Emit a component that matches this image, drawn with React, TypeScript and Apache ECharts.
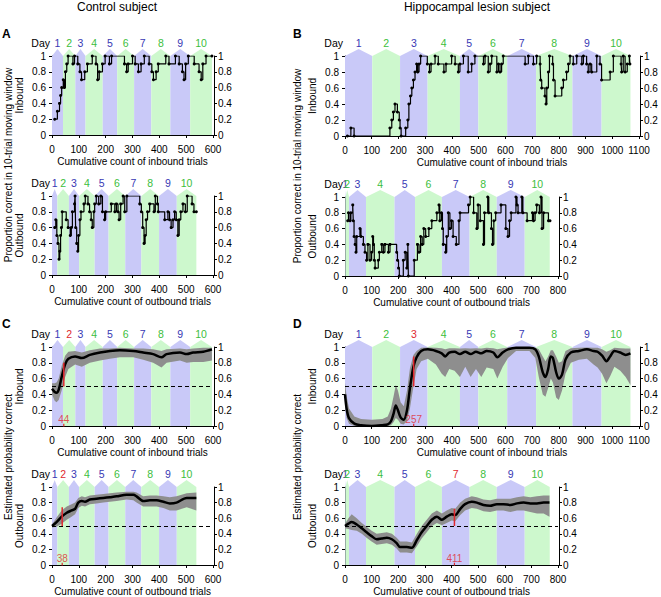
import React, { useEffect, useRef } from "react";
import * as echarts from "echarts";

const FONT = "'Liberation Sans', Arial, Helvetica, sans-serif";
const BLUE_BAND = "#c9c9f8";
const GREEN_BAND = "#cdf8cd";
const BLUE_TXT = "#3838b4";
const GREEN_TXT = "#3cbe3c";
const RED = "#e0282e";
const GRAY = "#8e8e8e";

// Day boundaries (cumulative trial counts)
const ctlInDays = [0, 41, 87, 125, 189, 243, 306, 370, 441, 515, 596];
const ctlOutDays = [0, 20, 63, 101, 159, 211, 273, 333, 399, 465, 538];
const lesInDays = [0, 102, 206, 309, 430, 499, 607, 715, 851, 960, 1068];
const lesOutDays = [0, 2, 15, 79, 186, 263, 364, 468, 570, 675, 769];

// Proportion correct in 10-trial moving window: [trial where value starts, value]
const ctlInSteps = [
  [10, 0.2], [20, 0.3], [28, 0.4], [32, 0.5], [36, 0.6], [42, 0.7], [46, 0.6], [50, 0.8], [55, 0.9], [60, 1.0],
  [78, 0.9], [84, 1.0], [96, 0.9], [104, 0.8], [110, 0.7], [122, 0.8], [132, 0.9], [150, 1.0], [164, 0.9], [170, 0.7],
  [176, 0.8], [188, 0.9], [198, 1.0], [214, 0.9], [222, 1.0], [270, 0.9], [278, 0.8], [284, 0.9], [300, 1.0], [310, 0.9],
  [322, 0.8], [332, 0.9], [344, 1.0], [362, 0.9], [372, 0.8], [378, 0.7], [388, 0.8], [396, 0.9], [424, 1.0], [436, 0.9],
  [460, 1.0], [474, 0.9], [486, 0.8], [492, 0.7], [498, 0.9], [508, 1.0], [530, 0.9], [548, 0.8], [556, 0.7], [562, 0.9],
  [574, 1.0], [596, 1.0],
];
const ctlOutSteps = [
  [10, 0.6], [14, 0.7], [18, 0.5], [22, 0.4], [26, 0.2], [29, 0.3], [32, 0.5], [35, 0.6], [38, 0.8], [53, 0.7],
  [60, 0.6], [68, 0.5], [72, 0.6], [76, 0.8], [84, 0.9], [86, 1.0], [88, 0.6], [92, 0.4], [96, 0.3], [99, 0.5],
  [104, 0.7], [108, 0.8], [119, 0.9], [124, 1.0], [134, 0.9], [140, 0.8], [146, 0.7], [150, 0.6], [156, 0.8], [159, 0.9],
  [165, 1.0], [174, 0.9], [182, 1.0], [188, 0.8], [196, 0.7], [200, 0.8], [221, 0.9], [234, 0.8], [240, 0.9], [246, 0.8],
  [250, 0.7], [256, 0.9], [265, 1.0], [271, 0.8], [279, 1.0], [327, 0.9], [333, 0.8], [338, 0.6], [343, 0.4], [347, 0.5],
  [351, 0.7], [356, 0.8], [364, 0.9], [380, 0.8], [385, 1.0], [393, 0.9], [396, 0.8], [420, 0.7], [432, 0.8], [438, 0.7],
  [444, 0.6], [451, 0.7], [457, 0.8], [463, 0.7], [469, 0.5], [474, 0.7], [480, 0.8], [488, 0.9], [497, 0.8], [504, 1.0],
  [522, 0.9], [529, 0.8], [538, 0.8],
];
const lesInSteps = [
  [9, 0], [22, 0.1], [34, 0], [168, 0.1], [175, 0.2], [181, 0.3], [187, 0.4], [196, 0.3], [203, 0.2], [206, 0.1],
  [210, 0], [227, 0.1], [235, 0.2], [239, 0.4], [245, 0.5], [250, 0.6], [256, 0.7], [262, 0.8], [268, 0.9], [272, 0.8],
  [277, 0.9], [283, 1.0], [308, 0.9], [316, 0.8], [322, 0.9], [337, 1.0], [349, 0.9], [370, 0.8], [378, 0.9], [399, 1.0],
  [412, 0.9], [424, 0.8], [430, 0.9], [443, 1.0], [461, 0.8], [474, 0.9], [486, 1.0], [518, 0.9], [524, 1.0], [536, 0.8],
  [543, 0.9], [549, 1.0], [568, 0.8], [574, 0.9], [580, 0.8], [586, 0.9], [592, 1.0], [674, 0.9], [686, 1.0], [705, 0.9],
  [717, 1.0], [730, 0.9], [732, 0.7], [736, 0.6], [748, 0.5], [752, 0.4], [755, 0.6], [761, 0.8], [765, 1.0], [777, 0.9],
  [780, 0.7], [786, 0.5], [811, 0.6], [817, 0.7], [829, 0.8], [836, 0.9], [842, 1.0], [854, 0.9], [867, 1.0], [886, 0.9],
  [892, 1.0], [904, 0.9], [910, 0.8], [917, 0.9], [923, 0.8], [942, 1.0], [954, 0.9], [960, 0.7], [992, 0.8], [1004, 1.0],
  [1033, 0.9], [1035, 0.8], [1041, 1.0], [1048, 0.8], [1056, 0.9], [1064, 1.0], [1066, 0.9],
];
const lesOutSteps = [
  [10, 0.7], [13, 0.8], [19, 0.7], [22, 0.8], [29, 0.9], [31, 0.7], [34, 0.5], [38, 0.4], [41, 0.3], [44, 0.5],
  [56, 0.6], [60, 0.5], [69, 0.4], [75, 0.3], [81, 0.2], [86, 0.4], [94, 0.2], [100, 0.3], [104, 0.5], [107, 0.4],
  [110, 0.2], [113, 0.1], [125, 0.2], [129, 0.3], [138, 0.4], [144, 0.3], [150, 0.4], [163, 0.3], [169, 0.4], [194, 0.3],
  [197, 0.2], [201, 0.1], [204, 0], [219, 0.2], [226, 0.3], [232, 0.1], [236, 0.4], [238, 0], [260, 0.2], [272, 0.4],
  [278, 0.3], [284, 0.5], [290, 0.4], [296, 0.6], [303, 0.5], [315, 0.6], [326, 0.7], [345, 0.8], [353, 0.9], [356, 0.7],
  [362, 0.8], [366, 0.6], [369, 0.4], [378, 0.3], [382, 0.5], [388, 0.8], [394, 0.6], [400, 0.7], [406, 0.5], [418, 0.4],
  [428, 0.7], [432, 0.8], [464, 0.9], [470, 1.0], [483, 0.8], [495, 0.6], [500, 0.9], [508, 0.7], [520, 0.4], [524, 0.8],
  [536, 1.0], [540, 0.8], [550, 0.6], [554, 0.4], [559, 0.7], [566, 0.8], [586, 0.9], [604, 0.6], [612, 0.5], [618, 0.7],
  [624, 0.8], [642, 1.0], [646, 0.9], [650, 0.8], [664, 1.0], [668, 0.8], [684, 0.7], [704, 0.8], [708, 0.7], [714, 0.8],
  [720, 0.9], [730, 0.8], [736, 1.0], [740, 0.6], [746, 0.8], [764, 0.7], [770, 0.7],
];

// Estimated probability correct: [trial, mean, lower bound, upper bound]
const ctlInEst = [
  [0, 0.47, 0.40, 0.54], [10, 0.43, 0.32, 0.54], [17, 0.42, 0.30, 0.55], [25, 0.46, 0.33, 0.60], [36, 0.62, 0.45, 0.76],
  [49, 0.78, 0.62, 0.89], [61, 0.85, 0.72, 0.94], [86, 0.88, 0.78, 0.95], [111, 0.86, 0.75, 0.93], [141, 0.90, 0.80, 0.96],
  [179, 0.93, 0.83, 0.98], [216, 0.95, 0.85, 0.98], [253, 0.96, 0.87, 0.99], [303, 0.95, 0.87, 0.98], [340, 0.93, 0.84, 0.98],
  [377, 0.91, 0.80, 0.97], [408, 0.87, 0.74, 0.95], [427, 0.91, 0.80, 0.97], [477, 0.93, 0.83, 0.98], [502, 0.91, 0.80, 0.97],
  [526, 0.93, 0.81, 0.98], [564, 0.94, 0.81, 0.99], [596, 0.97, 0.83, 0.99],
];
const ctlOutEst = [
  [0, 0.50, 0.48, 0.52], [17, 0.55, 0.49, 0.61], [36, 0.62, 0.53, 0.70], [55, 0.67, 0.58, 0.75], [73, 0.70, 0.62, 0.78],
  [86, 0.72, 0.65, 0.80], [98, 0.80, 0.73, 0.86], [111, 0.82, 0.76, 0.88], [123, 0.81, 0.75, 0.87], [141, 0.84, 0.78, 0.89],
  [166, 0.85, 0.79, 0.90], [191, 0.86, 0.80, 0.91], [216, 0.87, 0.81, 0.92], [241, 0.88, 0.82, 0.93], [278, 0.90, 0.84, 0.94],
  [303, 0.90, 0.83, 0.94], [315, 0.88, 0.80, 0.93], [340, 0.82, 0.75, 0.88], [365, 0.83, 0.75, 0.89], [390, 0.83, 0.75, 0.89],
  [415, 0.81, 0.73, 0.88], [439, 0.79, 0.70, 0.87], [464, 0.80, 0.70, 0.88], [502, 0.86, 0.74, 0.92], [538, 0.86, 0.70, 0.93],
];
const lesInEst = [
  [0, 0.40, 0.25, 0.55], [6, 0.22, 0.10, 0.38], [15, 0.10, 0.03, 0.22], [35, 0.03, 0.0, 0.12], [60, 0.01, 0.0, 0.09],
  [100, 0.0, 0.0, 0.08], [140, 0.01, 0.0, 0.09], [160, 0.02, 0.0, 0.12], [172, 0.06, 0.01, 0.22], [182, 0.16, 0.05, 0.38],
  [190, 0.26, 0.10, 0.52], [198, 0.20, 0.08, 0.45], [208, 0.11, 0.03, 0.30], [220, 0.08, 0.02, 0.25], [232, 0.20, 0.07, 0.45],
  [243, 0.48, 0.22, 0.73], [256, 0.75, 0.50, 0.90], [268, 0.87, 0.72, 0.95], [285, 0.95, 0.82, 0.99], [310, 0.97, 0.85, 0.995],
  [340, 0.95, 0.78, 0.99], [362, 0.92, 0.66, 0.985], [375, 0.88, 0.62, 0.97], [390, 0.93, 0.72, 0.985], [410, 0.94, 0.70, 0.985],
  [430, 0.91, 0.62, 0.98], [450, 0.94, 0.75, 0.985], [470, 0.91, 0.62, 0.98], [490, 0.94, 0.72, 0.985], [510, 0.92, 0.62, 0.98],
  [530, 0.95, 0.74, 0.99], [555, 0.93, 0.72, 0.985], [570, 0.87, 0.60, 0.97], [590, 0.93, 0.75, 0.985], [610, 0.97, 0.86, 0.995],
  [640, 0.99, 0.95, 1.0], [690, 0.99, 0.95, 1.0], [712, 0.97, 0.86, 0.995], [725, 0.88, 0.62, 0.97], [740, 0.68, 0.40, 0.88],
  [750, 0.62, 0.37, 0.82], [760, 0.72, 0.48, 0.88], [770, 0.88, 0.60, 0.96], [778, 0.86, 0.55, 0.96], [790, 0.68, 0.36, 0.88],
  [800, 0.60, 0.33, 0.80], [812, 0.65, 0.45, 0.82], [825, 0.84, 0.66, 0.95], [845, 0.93, 0.80, 0.985], [875, 0.95, 0.84, 0.99],
  [905, 0.97, 0.85, 0.995], [930, 0.95, 0.78, 0.99], [945, 0.94, 0.74, 0.99], [962, 0.89, 0.66, 0.97], [978, 0.82, 0.54, 0.94],
  [992, 0.88, 0.63, 0.96], [1008, 0.95, 0.75, 0.99], [1030, 0.93, 0.70, 0.985], [1050, 0.90, 0.62, 0.98], [1068, 0.92, 0.52, 0.98],
];
const lesOutEst = [
  [0, 0.50, 0.47, 0.53], [13, 0.53, 0.46, 0.60], [25, 0.55, 0.45, 0.65], [44, 0.52, 0.44, 0.60], [63, 0.47, 0.40, 0.54],
  [81, 0.42, 0.35, 0.49], [100, 0.37, 0.30, 0.44], [119, 0.33, 0.26, 0.40], [138, 0.34, 0.27, 0.41], [157, 0.35, 0.28, 0.42],
  [176, 0.33, 0.26, 0.40], [194, 0.28, 0.21, 0.35], [207, 0.23, 0.16, 0.30], [232, 0.23, 0.16, 0.30], [251, 0.22, 0.15, 0.29],
  [270, 0.32, 0.24, 0.40], [288, 0.42, 0.34, 0.50], [307, 0.50, 0.42, 0.58], [326, 0.58, 0.50, 0.66], [345, 0.62, 0.54, 0.70],
  [364, 0.58, 0.51, 0.66], [382, 0.62, 0.54, 0.70], [401, 0.65, 0.57, 0.73], [414, 0.64, 0.56, 0.72], [433, 0.72, 0.64, 0.80],
  [451, 0.78, 0.70, 0.85], [476, 0.81, 0.73, 0.88], [495, 0.80, 0.72, 0.87], [520, 0.77, 0.69, 0.84], [545, 0.76, 0.68, 0.83],
  [570, 0.78, 0.70, 0.85], [595, 0.78, 0.70, 0.85], [621, 0.77, 0.68, 0.85], [646, 0.79, 0.70, 0.87], [671, 0.80, 0.70, 0.88],
  [696, 0.79, 0.68, 0.87], [721, 0.79, 0.66, 0.88], [746, 0.80, 0.66, 0.89], [768, 0.80, 0.62, 0.89],
];

// Learning criterion: [trial, line bottom, line top]
const ctlInCrit = [44, 0.5, 0.8];
const ctlOutCrit = [38, 0.5, 0.74];
const lesInCrit = [257, 0.5, 0.88];
const lesOutCrit = [411, 0.5, 0.72];

const yTicks = { min: 0, max: 1, interval: 0.2 };

type Panel = {
  left: number; top: number; width: number; height: number; xMax: number;
  days: number[]; crit: number; xName: string; yName: string;
  steps?: number[][]; est?: number[][]; critLine?: number[];
};

const panels: Panel[] = [
  { left: 52, top: 56, width: 161, height: 79, xMax: 600, days: ctlInDays, crit: -1, xName: "Cumulative count of inbound trials", yName: "Inbound", steps: ctlInSteps },
  { left: 52, top: 196, width: 161, height: 79, xMax: 600, days: ctlOutDays, crit: -1, xName: "Cumulative count of outbound trials", yName: "Outbound", steps: ctlOutSteps },
  { left: 345, top: 56, width: 294, height: 80, xMax: 1100, days: lesInDays, crit: -1, xName: "Cumulative count of inbound trials", yName: "Inbound", steps: lesInSteps },
  { left: 345, top: 197, width: 213, height: 79, xMax: 800, days: lesOutDays, crit: -1, xName: "Cumulative count of outbound trials", yName: "Outbound", steps: lesOutSteps },
  { left: 52, top: 347, width: 161, height: 79, xMax: 600, days: ctlInDays, crit: 1, xName: "Cumulative count of inbound trials", yName: "Inbound", est: ctlInEst, critLine: ctlInCrit },
  { left: 52, top: 487, width: 161, height: 80, xMax: 600, days: ctlOutDays, crit: 1, xName: "Cumulative count of outbound trials", yName: "Outbound", est: ctlOutEst, critLine: ctlOutCrit },
  { left: 345, top: 347, width: 294, height: 79, xMax: 1100, days: lesInDays, crit: 2, xName: "Cumulative count of inbound trials", yName: "Inbound", est: lesInEst, critLine: lesInCrit },
  { left: 345, top: 487, width: 213, height: 80, xMax: 800, days: lesOutDays, crit: 6, xName: "Cumulative count of outbound trials", yName: "Outbound", est: lesOutEst, critLine: lesOutCrit },
];

function buildOption() {
  const grid: any[] = [];
  const xAxis: any[] = [];
  const yAxis: any[] = [];
  const series: any[] = [];
  const axisCommon = {
    axisLine: { show: true, lineStyle: { color: "#000", width: 1 } },
    axisTick: { show: true, length: 3, lineStyle: { color: "#000", width: 1 } },
    splitLine: { show: false },
  };
  const plain = (v: number) => String(v);
  panels.forEach((p, i) => {
    grid.push({ left: p.left, top: p.top, width: p.width, height: p.height, containLabel: false });
    xAxis.push({
      type: "value", gridIndex: i, min: 0, max: p.xMax, interval: 100, offset: 3, ...axisCommon,
      axisLabel: { color: "#000", fontSize: 10, fontFamily: FONT, margin: 6, formatter: plain },
      name: p.xName, nameLocation: "middle", nameGap: 18,
      nameTextStyle: { color: "#000", fontSize: 10, fontFamily: FONT },
    });
    yAxis.push({
      type: "value", gridIndex: i, position: "left", offset: 2, ...yTicks, ...axisCommon,
      axisLabel: { color: "#000", fontSize: 10, fontFamily: FONT, margin: 4, formatter: plain },
      name: p.yName, nameLocation: "middle", nameGap: 26,
      nameTextStyle: { color: "#000", fontSize: 10, fontFamily: FONT },
    });
    yAxis.push({
      type: "value", gridIndex: i, position: "right", offset: 1, ...yTicks, ...axisCommon,
      axisLabel: { color: "#000", fontSize: 10, fontFamily: FONT, margin: 4, formatter: plain },
    });
    const crit = p.crit;
    series.push({
      type: "custom", xAxisIndex: i, yAxisIndex: 2 * i, silent: true, clip: false, z: 1,
      data: p.days.slice(0, -1).map((s, k) => [s, p.days[k + 1], k]),
      renderItem: (params: any, api: any) => {
        const s = api.value(0), e = api.value(1), k = api.value(2);
        const p0 = api.coord([s, 0]);
        const p1 = api.coord([e, 1]);
        const mid = (p0[0] + p1[0]) / 2;
        const fill = k % 2 === 0 ? BLUE_BAND : GREEN_BAND;
        const txtColor = k === crit ? RED : k % 2 === 0 ? BLUE_TXT : GREEN_TXT;
        const children: any[] = [
          {
            type: "polygon",
            shape: { points: [[p0[0], p0[1]], [p0[0], p1[1]], [mid, p1[1] - 7], [p1[0], p1[1]], [p1[0], p0[1]]] },
            style: { fill },
          },
          {
            type: "text",
            style: { text: String(k + 1), x: mid, y: p1[1] - 13, align: "center", verticalAlign: "middle", fill: txtColor, font: `10.5px ${FONT}` },
          },
        ];
        if (k === 0) {
          children.push({
            type: "text",
            style: { text: "Day", x: p0[0] - 2, y: p1[1] - 13, align: "right", verticalAlign: "middle", fill: "#000", font: `10.5px ${FONT}` },
          });
        }
        return { type: "group", children };
      },
    });
    if (p.steps) {
      series.push({
        type: "line", step: "end", xAxisIndex: i, yAxisIndex: 2 * i, z: 3, silent: true,
        data: p.steps.map((d) => [d[0], d[1]]),
        symbol: "circle", symbolSize: 3, showSymbol: true,
        lineStyle: { color: "#000", width: 1.2 }, itemStyle: { color: "#000" },
      });
    }
    if (p.est) {
      const rows = p.est;
      series.push({
        type: "custom", xAxisIndex: i, yAxisIndex: 2 * i, silent: true, clip: false, z: 2,
        data: [[rows[0][0], rows[0][1]]],
        renderItem: (params: any, api: any) => {
          const up = rows.map((r) => api.coord([r[0], r[3]]));
          const dn = rows.slice().reverse().map((r) => api.coord([r[0], r[2]]));
          return { type: "polygon", shape: { points: up.concat(dn) }, style: { fill: GRAY } };
        },
      });
      series.push({
        type: "line", xAxisIndex: i, yAxisIndex: 2 * i, z: 3, silent: true, smooth: 0.3,
        data: rows.map((r) => [r[0], r[1]]), symbol: "none",
        lineStyle: { color: "#000", width: 2.5 },
        markLine: {
          silent: true, symbol: "none", label: { show: false },
          lineStyle: { color: "#000", width: 1, type: [4, 3] },
          data: [{ yAxis: 0.5 }],
        },
      });
      const c = p.critLine!;
      series.push({
        type: "line", xAxisIndex: i, yAxisIndex: 2 * i, z: 4, silent: true, symbol: "none",
        data: [[c[0], c[1]], [c[0], c[2]]], lineStyle: { color: RED, width: 1.5 },
      });
      series.push({
        type: "line", xAxisIndex: i, yAxisIndex: 2 * i, z: 4, silent: true, symbol: "none",
        data: [[c[0], -0.03], [c[0], 0.03]], lineStyle: { color: RED, width: 1.2 },
      });
      series.push({
        type: "scatter", xAxisIndex: i, yAxisIndex: 2 * i, z: 5, silent: true,
        data: [[c[0], 0.085]], symbolSize: 1, itemStyle: { color: "rgba(0,0,0,0)" },
        label: {
          show: true, position: "inside", color: RED, fontSize: 10, fontFamily: FONT,
          formatter: (q: any) => String(q.value[0]),
        },
      });
    }
  });

  const txt = (text: string, x: number, y: number, extra: any = {}) => ({
    type: "text", x, y, rotation: extra.rotation || 0,
    style: {
      text, align: extra.align || "center", verticalAlign: "middle", fill: "#000",
      font: `${extra.weight || "normal"} ${extra.size || 10}px ${FONT}`,
    },
  });

  return {
    animation: false,
    textStyle: { fontFamily: FONT },
    grid, xAxis, yAxis, series,
    graphic: [
      txt("Control subject", 117, 7, { size: 12 }),
      txt("Hippocampal lesion subject", 477, 7, { size: 12 }),
      txt("A", 2, 34, { size: 12, weight: "bold", align: "left" }),
      txt("B", 293, 34, { size: 12, weight: "bold", align: "left" }),
      txt("C", 2, 324, { size: 12, weight: "bold", align: "left" }),
      txt("D", 293, 324, { size: 12, weight: "bold", align: "left" }),
      txt("Proportion correct in 10-trial moving window", 8, 165, { rotation: Math.PI / 2 }),
      txt("Proportion correct in 10-trial moving window", 297, 166, { rotation: Math.PI / 2 }),
      txt("Estimated probability correct", 8, 457, { rotation: Math.PI / 2 }),
      txt("Estimated probability correct", 297, 457, { rotation: Math.PI / 2 }),
    ],
  };
}

export default function App() {
  const ref = useRef<HTMLDivElement>(null);
  useEffect(() => {
    const chart = echarts.init(ref.current!, null, { renderer: "svg" });
    chart.setOption(buildOption() as any);
    return () => chart.dispose();
  }, []);
  return (
    <div
      ref={ref}
      style={{ position: "absolute", left: 0, top: 0, width: 661, height: 597, background: "#fff" }}
    />
  );
}
